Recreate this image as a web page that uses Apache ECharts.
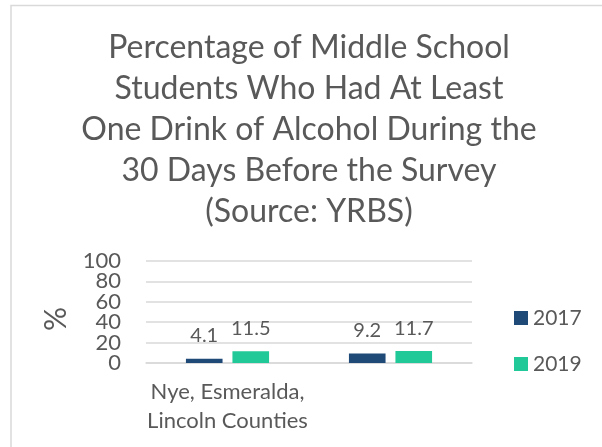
<!DOCTYPE html>
<html>
<head>
<meta charset="utf-8">
<script src="https://cdn.jsdelivr.net/npm/echarts@6/dist/echarts.min.js"></script>
<style>
  html, body { margin: 0; padding: 0; background: #ffffff; }
  #chart-box { width: 602px; height: 447px; }
</style>
</head>
<body>
<div id="chart-box"></div>
<script>
// 数据
const titleText = 'Percentage of Middle School\nStudents Who Had At Least\nOne Drink of Alcohol During the\n30 Days Before the Survey\n(Source: YRBS)';
const categories = ['Nye, Esmeralda,\nLincoln Counties', 'State of NV'];
const seriesNames = ['2017', '2019'];
const values2017 = [4.1, 9.2];
const values2019 = [11.5, 11.7];
const yMin = 0;
const yMax = 100;
const yStep = 20;
// 0/100 旁边被自动隐藏的刻度，由第二根轴补上
const yInnerTicks = [20, 80];

const textColor = '#595959';
const fontName = 'Lato';

function renderChart() {
  let myEchart = echarts.init(document.getElementById('chart-box'));

  const barLabel = {
    show: true,
    position: 'top',
    distance: 13,
    fontFamily: fontName,
    fontSize: 20,
    color: textColor
  };

  const tickLabel = {
    margin: 25,
    hideOverlap: false,
    fontFamily: fontName,
    fontSize: 22,
    color: textColor
  };

  let optionData = {
    animation: false,
    color: ['#1F4A78', '#20C997'],
    textStyle: { fontFamily: fontName },
    // 外框
    graphic: [
      {
        type: 'rect',
        shape: { x: 11, y: 5.5, width: 800, height: 800 },
        style: { fill: 'none', stroke: '#d9d9d9', lineWidth: 1.5 },
        silent: true
      }
    ],
    title: {
      text: titleText,
      left: 309,
      top: 27,
      padding: 0,
      textAlign: 'center',
      textStyle: {
        fontFamily: fontName,
        fontSize: 32,
        lineHeight: 41,
        fontWeight: 'normal',
        color: textColor
      }
    },
    legend: {
      orient: 'vertical',
      left: 514,
      top: 306,
      padding: 0,
      icon: 'rect',
      itemWidth: 14,
      itemHeight: 14,
      itemGap: 22,
      data: seriesNames,
      textStyle: {
        fontFamily: fontName,
        fontSize: 21,
        lineHeight: 24,
        color: textColor
      }
    },
    grid: {
      left: 146,
      right: 130,
      top: 261,
      bottom: 84,
      containLabel: false
    },
    xAxis: {
      type: 'category',
      data: categories,
      axisTick: { show: false },
      axisLine: { lineStyle: { color: '#d9d9d9', width: 1.5 } },
      axisLabel: {
        margin: 15,
        fontFamily: fontName,
        fontSize: 22,
        lineHeight: 28.5,
        color: textColor
      }
    },
    yAxis: [
      {
        type: 'value',
        min: yMin,
        max: yMax,
        interval: yStep,
        name: '%',
        nameLocation: 'middle',
        nameRotate: 90,
        nameGap: 59,
        nameTextStyle: {
          fontFamily: fontName,
          fontSize: 30,
          padding: [0, 14, 0, 0],
          color: textColor
        },
        axisLine: { show: false },
        axisTick: { show: false },
        axisLabel: Object.assign({ showMinLabel: true, showMaxLabel: true }, tickLabel),
        splitLine: { lineStyle: { color: '#d9d9d9', width: 1.5 } }
      },
      {
        type: 'value',
        position: 'left',
        min: yMin,
        max: yMax,
        interval: yStep,
        axisLine: { show: false },
        axisTick: { show: false },
        splitLine: { show: false },
        axisLabel: Object.assign({
          showMinLabel: false,
          showMaxLabel: false,
          formatter: (v) => (yInnerTicks.indexOf(v) > -1 ? String(v) : '')
        }, tickLabel)
      }
    ],
    series: [
      {
        type: 'bar',
        name: seriesNames[0],
        data: values2017,
        barGap: '27%',
        barCategoryGap: '49%',
        label: barLabel
      },
      {
        type: 'bar',
        name: seriesNames[1],
        data: values2019,
        barGap: '27%',
        barCategoryGap: '49%',
        label: barLabel
      }
    ]
  };

  myEchart.setOption(optionData);
}
renderChart();
</script>
</body>
</html>
